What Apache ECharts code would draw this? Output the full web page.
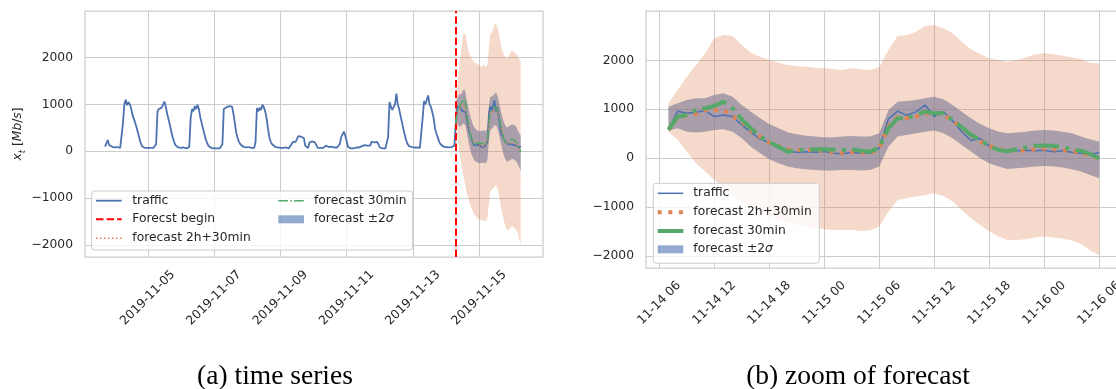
<!DOCTYPE html>
<html><head><meta charset="utf-8">
<script src="https://cdn.jsdelivr.net/npm/echarts@6/dist/echarts.min.js"></script>
<style>html,body{margin:0;padding:0;background:#fff;}#c{width:1116px;height:389px;}</style>
</head><body><div id="c"></div>
<script>
// ---------------- DATA ----------------
const HOUR = 3600000;
// hourly traffic, starting 2019-11-03 17:00
const trafficStart = Date.UTC(2019, 10, 3, 17);
const traffic = [
  // 11-03 17..23
  100, 110, 240, 130, 90, 100, 70,
  // 11-04
  80, 60, 90, 60, 70, 80, 600, 1000, 1100, 980, 1050, 1000, 900, 760, 680, 590, 490, 380, 260, 160, 100, 80, 70, 60,
  // 11-05
  70, 60, 70, 60, 70, 80, 150, 850, 900, 860, 930, 920, 1060, 950, 800, 680, 560, 420, 300, 200, 130, 100, 80, 70,
  // 11-06
  70, 60, 80, 60, 60, 70, 90, 700, 900, 850, 960, 900, 990, 900, 720, 600, 480, 360, 250, 170, 110, 90, 70, 60,
  // 11-07
  60, 70, 60, 70, 60, 80, 150, 900, 880, 940, 900, 960, 1000, 950, 800, 600, 400, 280, 200, 150, 130, 100, 90, 80,
  // 11-08
  70, 90, 60, 70, 60, 70, 200, 920, 850, 930, 880, 990, 940, 850, 700, 480, 300, 200, 150, 120, 100, 90, 80, 70,
  // 11-09
  70, 60, 70, 60, 80, 70, 60, 90, 150, 200, 180, 200, 260, 320, 330, 310, 300, 280, 120, 80, 70, 180, 200, 210,
  // 11-10
  200, 190, 150, 70, 60, 70, 60, 70, 80, 120, 110, 90, 80, 100, 90, 80, 70, 80, 100, 150, 300, 320, 420, 330,
  // 11-11
  300, 90, 70, 60, 70, 60, 70, 80, 90, 80, 100, 110, 110, 130, 100, 120, 90, 120, 200, 210, 190, 220, 200, 150,
  // 11-12
  80, 70, 60, 70, 60, 80, 300, 1050, 950, 880, 900, 1000, 1230, 1000, 900, 750, 620, 480, 360, 240, 160, 110, 100, 90,
  // 11-13
  90, 80, 70, 80, 70, 70, 90, 700, 1070, 1000, 1100, 1190, 1000, 950, 830, 700, 480, 380, 290, 200, 150, 120, 100, 110,
  // 11-14 00..06
  90, 100, 80, 110, 90, 100, 120,
  // 11-14 07 .. 11-16 06 (forecast period, actual)
  580, 960, 918, 935, 975, 850, 880, 850, 680, 525, 395, 310, 202, 133, 120, 130, 120, 133, 100, 86, 112, 98, 98, 202,
  800, 960, 875, 945, 1085, 850, 945, 765, 540, 360, 400, 250, 190, 160, 150, 160, 150, 160, 130, 150, 120, 100, 80, 110
];

const forecastBegin = Date.UTC(2019, 10, 14, 7);
// hourly forecasts, starting 2019-11-14 07:00
const forecastStart = Date.UTC(2019, 10, 14, 7);
const forecast2h30 = [
  580, 835, 870, 900, 985, 985, 985, 850, 745, 560, 440, 315, 250, 180, 165, 165, 160, 145, 125, 100, 120, 110, 100, 200,
  650, 835, 815, 850, 900, 930, 880, 765, 610, 470, 335, 255, 185, 155, 155, 155, 180, 195, 180, 165, 145, 110, 45, -10
];
const forecast30 = [
  580, 850, 880, 985, 1020, 1065, 1155, 1020, 790, 610, 440, 325, 235, 130, 165, 170, 180, 180, 170, 165, 180, 150, 130, 220,
  610, 815, 815, 880, 950, 915, 915, 780, 630, 475, 370, 250, 165, 140, 180, 220, 250, 255, 250, 220, 180, 150, 85, -10
];
const sigmaUpper = [
  1050, 1121, 1189, 1223, 1223, 1291, 1325, 1257, 1087, 950, 814, 698, 609, 527, 486, 459, 439, 425, 425, 439, 452, 439, 439, 507,
  984, 1155, 1169, 1189, 1223, 1257, 1203, 1087, 950, 814, 698, 609, 541, 507, 521, 541, 562, 575, 562, 541, 507, 439, 384, 336
];
const sigmaLower = [
  560, 609, 541, 521, 541, 575, 589, 541, 405, 234, 98, -25, -107, -175, -209, -230, -243, -257, -257, -243, -243, -257, -243, -175,
  234, 439, 473, 507, 541, 562, 507, 405, 268, 132, -5, -107, -175, -223, -209, -195, -175, -161, -175, -195, -230, -277, -346, -414
];
const wideUpper = [
  1121, 1394, 1666, 1905, 2144, 2451, 2519, 2498, 2314, 2157, 2076, 2007, 1953, 1905, 1885, 1871, 1851, 1837, 1823, 1803, 1837, 1816, 1803, 1857,
  2212, 2498, 2519, 2587, 2703, 2724, 2655, 2553, 2383, 2226, 2130, 2042, 2007, 1973, 2007, 2062, 2123, 2144, 2123, 2096, 2062, 2021, 1953, 1939
];
const wideLower = [
  540, 371, 132, -107, -277, -448, -584, -755, -891, -993, -1096, -1184, -1253, -1321, -1369, -1403, -1437, -1457, -1471, -1471, -1471, -1491, -1484, -1403,
  -1096, -857, -823, -789, -762, -721, -775, -891, -1062, -1232, -1369, -1505, -1607, -1675, -1675, -1662, -1621, -1607, -1628, -1648, -1689, -1757, -1894, -1982
];

const leftTickLabels = ['2019-11-05', '2019-11-07', '2019-11-09', '2019-11-11', '2019-11-13', '2019-11-15'];
const rightTickLabels = ['11-14 06', '11-14 12', '11-14 18', '11-15 00', '11-15 06', '11-15 12', '11-15 18', '11-16 00', '11-16 06'];
const yTicks = [-2000, -1000, 0, 1000, 2000];

// ---------------- BUILD ----------------
const trafficTimes = traffic.map((_, i) => trafficStart + i * HOUR);
const fTimes = forecast30.map((_, i) => forecastStart + i * HOUR);
const trafficPairs = traffic.map((v, i) => [trafficTimes[i], v]);
const rightTrafficPairs = trafficPairs.filter(p => p[0] >= forecastStart);
const f2Pairs = forecast2h30.map((v, i) => [fTimes[i], v]);
const f30Pairs = forecast30.map((v, i) => [fTimes[i], v]);

const leftTickVals = leftTickLabels.map(s => Date.UTC(+s.slice(0, 4), +s.slice(5, 7) - 1, +s.slice(8, 10)));
const rightTickVals = rightTickLabels.map(s => Date.UTC(2019, +s.slice(0, 2) - 1, +s.slice(3, 5), +s.slice(6, 8)));

const C_BLUE = '#4c72b0', C_ORANGE = '#dd8452', C_GREEN = '#55a868', C_RED = '#ff0000';
const C_GRID = '#cccccc', C_TEXT = '#262626';
const FONT = '"DejaVu Sans", sans-serif';
const FS = 12.3;

const pad2 = n => (n < 10 ? '0' : '') + n;
const fmtDate = v => { const d = new Date(v); return d.getUTCFullYear() + '-' + pad2(d.getUTCMonth() + 1) + '-' + pad2(d.getUTCDate()); };
const fmtDH = v => { const d = new Date(v); return pad2(d.getUTCMonth() + 1) + '-' + pad2(d.getUTCDate()) + ' ' + pad2(d.getUTCHours()); };
const fmtY = v => (v < 0 ? '\u2212' + Math.abs(v) : '' + v);

function band(xi, times, lo, hi, color, z) {
  return {
    type: 'custom', xAxisIndex: xi, yAxisIndex: xi, z: z, silent: true,
    data: times.map((t, i) => [t, lo[i], hi[i]]),
    encode: { x: 0, y: [1, 2] },
    renderItem: function (params, api) {
      if (params.dataIndex !== 0) return null;
      const pts = [];
      for (let i = 0; i < times.length; i++) pts.push(api.coord([times[i], hi[i]]));
      for (let i = times.length - 1; i >= 0; i--) pts.push(api.coord([times[i], lo[i]]));
      return { type: 'polygon', shape: { points: pts }, style: { fill: color } };
    }
  };
}
function line(xi, data, color, width, dash, z) {
  return {
    type: 'line', xAxisIndex: xi, yAxisIndex: xi, data: data, z: z, silent: true,
    showSymbol: false, symbol: 'none',
    lineStyle: { color: color, width: width, type: dash || 'solid', cap: 'butt' }
  };
}
function xAxis(gi, min, max, vals, fmt, margin) {
  return {
    type: 'value', gridIndex: gi, min: min, max: max, scale: true,
    axisLine: { show: false }, axisTick: { show: false, customValues: vals },
    splitLine: { show: true, lineStyle: { color: C_GRID, width: 1 } },
    axisLabel: { customValues: vals, formatter: fmt, rotate: 45, align: 'center', verticalAlign: 'middle',
      margin: margin, color: C_TEXT, fontFamily: FONT, fontSize: FS, hideOverlap: false }
  };
}
function yAxis(gi, min, max, extra) {
  return Object.assign({
    type: 'value', gridIndex: gi, min: min, max: max,
    axisLine: { show: false }, axisTick: { show: false, customValues: yTicks },
    splitLine: { show: true, lineStyle: { color: C_GRID, width: 1 } },
    axisLabel: { customValues: yTicks, formatter: fmtY, margin: 12, color: C_TEXT, fontFamily: FONT, fontSize: FS }
  }, extra || {});
}

const series = [
  // left
  band(0, fTimes, sigmaLower, sigmaUpper, 'rgba(76,114,176,0.6)', 1),
  band(0, fTimes, wideLower, wideUpper, 'rgba(221,132,82,0.3)', 2),
  line(0, trafficPairs, C_BLUE, 1.8, null, 3),
  line(0, f2Pairs, C_ORANGE, 1.5, [1.5, 2.5], 4),
  line(0, f30Pairs, C_GREEN, 1.5, [9.6, 2.4, 1.5, 2.4], 5),
  {
    type: 'line', xAxisIndex: 0, yAxisIndex: 0, data: [], z: 6, silent: true,
    markLine: { silent: true, symbol: ['none', 'none'], label: { show: false }, animation: false,
      lineStyle: { color: C_RED, width: 2, type: [7.4, 3.2] }, data: [{ xAxis: forecastBegin }] }
  },
  // right
  band(1, fTimes, sigmaLower, sigmaUpper, 'rgba(76,114,176,0.6)', 1),
  band(1, fTimes, wideLower, wideUpper, 'rgba(221,132,82,0.3)', 2),
  line(1, rightTrafficPairs, C_BLUE, 1.5, null, 3),
  line(1, f2Pairs, C_ORANGE, 4, [4, 6.6], 4),
  line(1, f30Pairs, C_GREEN, 4, [25.6, 6.4, 4, 6.4], 5)
];

// legends (drawn as graphic elements)
function legendBox(x, y, w, h) {
  return { type: 'rect', shape: { x: x, y: y, width: w, height: h, r: 3 },
    style: { fill: 'rgba(255,255,255,0.8)', stroke: C_GRID, lineWidth: 1 }, z: 100 };
}
function legLine(x1, x2, y, color, width, dash) {
  return { type: 'line', shape: { x1: x1, y1: y, x2: x2, y2: y },
    style: { stroke: color, lineWidth: width, lineDash: dash || null, lineCap: 'butt' }, z: 101 };
}
function legPatch(x1, x2, y) {
  return { type: 'rect', shape: { x: x1, y: y - 4, width: x2 - x1, height: 8 },
    style: { fill: 'rgba(76,114,176,0.6)' }, z: 101 };
}
function legText(x, y, txt) {
  return { type: 'text', x: x, y: y, z: 101,
    style: { text: txt, fill: C_TEXT, font: FS + 'px ' + FONT, verticalAlign: 'middle', align: 'left',
      rich: { it: { fontStyle: 'italic', fontSize: FS, fontFamily: FONT, fill: C_TEXT } } } };
}
const CAP_FONT = '27.5px "Liberation Serif", serif';
const graphic = [
  legendBox(91.7, 191, 321, 59),
  legLine(96, 121.7, 200.7, C_BLUE, 1.8),
  legLine(96, 121.7, 219.3, C_RED, 2, [7.4, 3.2]),
  legLine(96, 121.7, 238.3, C_ORANGE, 1.5, [1.5, 2.5]),
  legLine(278.3, 304, 200.7, C_GREEN, 1.5, [9.6, 2.4, 1.5, 2.4]),
  legPatch(278.3, 304, 219.3),
  legText(132.3, 200.7, 'traffic'),
  legText(132.3, 219.3, 'Forecst begin'),
  legText(132.3, 238.3, 'forecast 2h+30min'),
  legText(314, 200.7, 'forecast 30min'),
  legText(314, 219.3, 'forecast \u00b12{it|\u03c3}'),

  legendBox(653.3, 183.3, 166, 80),
  legLine(657.7, 683.3, 193.3, C_BLUE, 1.5),
  legLine(657.7, 683.3, 212.3, C_ORANGE, 4, [4, 6.6]),
  legLine(657.7, 683.3, 231, C_GREEN, 4, [25.6, 6.4, 4, 6.4]),
  legPatch(657.7, 683.3, 249.3),
  legText(693.3, 193.3, 'traffic'),
  legText(693.3, 212.3, 'forecast 2h+30min'),
  legText(693.3, 231, 'forecast 30min'),
  legText(693.3, 249.3, 'forecast \u00b12{it|\u03c3}'),

  { type: 'text', x: 275, y: 377, style: { text: '(a) time series', font: CAP_FONT, fill: '#000', align: 'center', verticalAlign: 'middle' } },
  { type: 'text', x: 858, y: 377, style: { text: '(b) zoom of forecast', font: CAP_FONT, fill: '#000', align: 'center', verticalAlign: 'middle' } }
];

const option = {
  animation: false,
  backgroundColor: '#ffffff',
  grid: [
    { left: 85, top: 11, width: 458, height: 246, show: true, borderColor: C_GRID, borderWidth: 1.25, backgroundColor: 'transparent',
      containLabel: false, outerBoundsMode: 'none' },
    { left: 646, top: 11, width: 480, height: 257, show: true, borderColor: C_GRID, borderWidth: 1.25, backgroundColor: 'transparent',
      containLabel: false, outerBoundsMode: 'none' }
  ],
  xAxis: [
    xAxis(0, Date.UTC(2019, 10, 3, 2, 30), Date.UTC(2019, 10, 16, 22, 10), leftTickVals, fmtDate, 41),
    xAxis(1, Date.UTC(2019, 10, 14, 4, 33), Date.UTC(2019, 10, 16, 8, 55), rightTickVals, fmtDH, 35)
  ],
  yAxis: [
    yAxis(0, -2255, 2990, {
      name: '{i|x}{s|t}{n| [}{i|Mb}{n|/}{i|s}{n|]}', nameLocation: 'middle', nameRotate: 90, nameGap: 58,
      nameTextStyle: { color: C_TEXT, fontFamily: FONT, fontSize: FS,
        rich: {
          i: { fontStyle: 'italic', fontFamily: FONT, fontSize: FS, color: C_TEXT, lineHeight: 18, verticalAlign: 'middle' },
          n: { fontFamily: FONT, fontSize: FS, color: C_TEXT, lineHeight: 18, verticalAlign: 'middle' },
          s: { fontStyle: 'italic', fontFamily: FONT, fontSize: 8.5, color: C_TEXT, lineHeight: 18, verticalAlign: 'bottom' }
        } }
    }),
    yAxis(1, -2250, 3010)
  ],
  series: series,
  graphic: graphic
};

const chart = echarts.init(document.getElementById('c'), null, { renderer: 'canvas', width: 1116, height: 389 });
chart.setOption(option);
</script>
</body></html>
